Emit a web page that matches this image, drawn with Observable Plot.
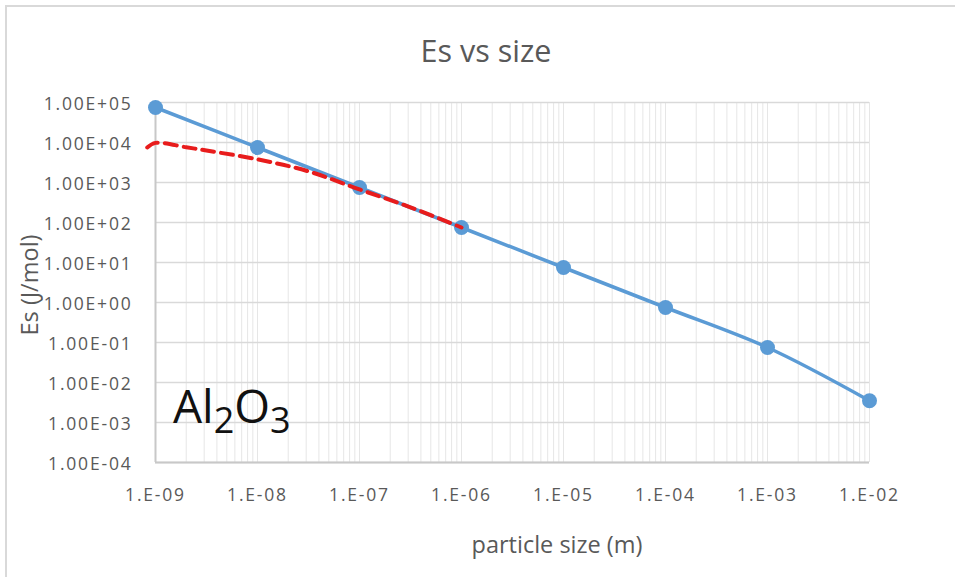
<!DOCTYPE html>
<html><head><meta charset="utf-8">
<script src="https://cdn.jsdelivr.net/npm/d3@7"></script>
<script src="https://cdn.jsdelivr.net/npm/@observablehq/plot@0.6"></script>
<style>
html,body{margin:0;padding:0;background:#fff;}
#wrap{position:relative;width:955px;height:577px;overflow:hidden;background:#fff;}
#frame{position:absolute;left:5px;top:5px;width:960px;height:590px;border-left:2px solid #d9d9d9;border-top:2px solid #d9d9d9;}
#chart{position:absolute;left:0;top:0;}
#labels{position:absolute;left:0;top:0;pointer-events:none;}
#chart g[aria-label$="tick label"] text{letter-spacing:1.8px;}
</style></head>
<body>
<div id="wrap">
  <div id="frame"></div>
  <div id="chart"></div>
  <svg id="labels" width="955" height="577" font-family="Open Sans">
    <text x="486" y="62" text-anchor="middle" font-size="30.5" fill="#595959">Es vs size</text>
    <text x="557" y="553" text-anchor="middle" font-size="23.5" fill="#595959">particle size (m)</text>
    <text transform="translate(38,285) rotate(-90)" text-anchor="middle" font-size="23.5" fill="#595959">Es (J/mol)</text>
    <text x="173" y="423" font-size="46" fill="#111">Al<tspan font-size="36" dy="10">2</tspan><tspan font-size="46" dy="-10">O</tspan><tspan font-size="36" dy="10">3</tspan></text>
  </svg>
</div>
<script>
// Tick values and labels
const xTicks = [1e-9, 1e-8, 1e-7, 1e-6, 1e-5, 1e-4, 1e-3, 1e-2];
const xTickLabels = ["1.E-09", "1.E-08", "1.E-07", "1.E-06", "1.E-05", "1.E-04", "1.E-03", "1.E-02"];
const yTicks = [1e-4, 1e-3, 1e-2, 1e-1, 1e0, 1e1, 1e2, 1e3, 1e4, 1e5];
const yTickLabels = ["1.00E-04", "1.00E-03", "1.00E-02", "1.00E-01", "1.00E+00", "1.00E+01", "1.00E+02", "1.00E+03", "1.00E+04", "1.00E+05"];

// Blue series (solid line with markers)
const blueSizes = [1e-9, 1e-8, 1e-7, 1e-6, 1e-5, 1e-4, 1e-3, 1e-2];
const blueEs = [75000, 7500, 750, 75, 7.5, 0.75, 0.075, 0.0035];

// Red series (dashed smooth curve)
const redSizes = [8.3e-10, 1e-9, 2e-9, 3.16e-9, 1e-8, 3.16e-8, 1e-7, 3.16e-7, 1e-6];
const redEs = [7500, 9800, 7600, 6300, 3800, 1900, 670, 240, 75];

const blue = blueSizes.map((s, i) => ({size: s, es: blueEs[i]}));
const red = redSizes.map((s, i) => ({size: s, es: redEs[i]}));
const xLabelMap = new Map(xTicks.map((v, i) => [v, xTickLabels[i]]));
const yLabelMap = new Map(yTicks.map((v, i) => [v, yTickLabels[i]]));

// minor vertical grid: 1..9 within each decade
const xMinor = [];
for (let i = 0; i < xTicks.length - 1; i++) for (let k = 1; k <= 9; k++) xMinor.push(xTicks[i] * k);
xMinor.push(xTicks[xTicks.length - 1]);

const chart = Plot.plot({
  width: 955, height: 577,
  marginLeft: 155, marginRight: 86, marginTop: 102, marginBottom: 115,
  style: {fontFamily: "Open Sans", fontSize: "17.5px", color: "#595959", background: "transparent", overflow: "visible"},
  x: {type: "log", domain: [1e-9, 1e-2]},
  y: {type: "log", domain: [1e-4, 1e5]},
  marks: [
    Plot.ruleX(xMinor, {stroke: "#e6e6e6", strokeWidth: 1}),
    Plot.ruleY(yTicks, {stroke: "#d9d9d9", strokeWidth: 1.5}),
    Plot.ruleX([xTicks[0]], {stroke: "#c8c8c8", strokeWidth: 2}),
    Plot.ruleY([yTicks[0]], {stroke: "#c8c8c8", strokeWidth: 2}),
    Plot.axisY({ticks: yTicks, tickFormat: d => yLabelMap.get(d), tickSize: 0, tickPadding: 23, label: null, dy: 2}),
    Plot.axisX({ticks: xTicks, tickFormat: d => xLabelMap.get(d), tickSize: 0, tickPadding: 26, label: null}),
    Plot.line(blue, {x: "size", y: "es", stroke: "#5b9bd5", strokeWidth: 3.5, curve: "catmull-rom"}),
    Plot.dot(blue, {x: "size", y: "es", r: 7.5, fill: "#5b9bd5", stroke: "none"}),
    Plot.line(red, {x: "size", y: "es", stroke: "#e81c1c", strokeWidth: 4, strokeDasharray: "12,7", curve: "catmull-rom"})
  ]
});
document.getElementById("chart").appendChild(chart);
</script>
</body></html>
